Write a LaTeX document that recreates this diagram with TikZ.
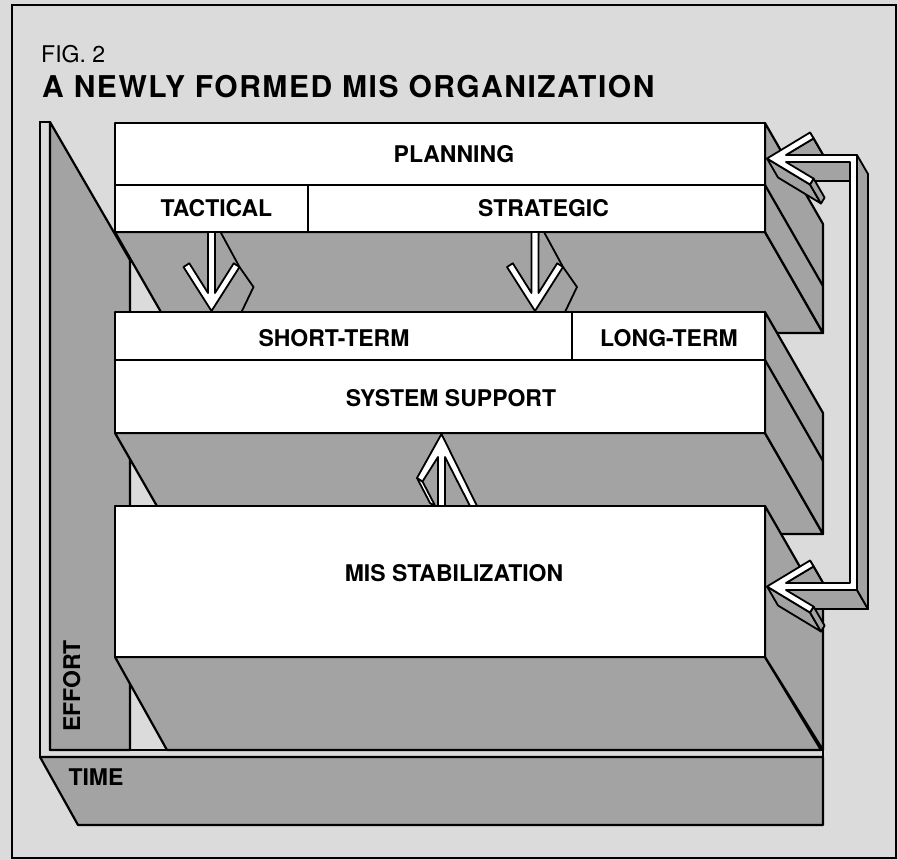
\documentclass[tikz,border=0pt]{standalone}
\usepackage{fontspec}
\setmainfont{TeX Gyre Heros}
\begin{document}
\begin{tikzpicture}[x=1pt,y=-1pt,
  paper/.style={fill=black!14},
  box/.style={draw=black,line width=2.4pt,fill=white,line join=round},
  shade/.style={draw=black,line width=2.2pt,fill=black!36,line join=round},
  edge/.style={draw=black,line width=2.2pt,line cap=round},
  arrface/.style={draw=black,line width=1.8pt,fill=white,line join=round},
  arrshade/.style={draw=black,line width=1.8pt,fill=black!36,line join=round},
  lbl/.style={font=\fontsize{23}{26}\selectfont\bfseries,anchor=base,inner sep=0pt}]
\useasboundingbox (0,0) rectangle (898,860);
\fill[paper] (0,0) rectangle (898,860);
\draw[line width=2pt] (12,5) rectangle (896,858);
%
% macro: hollow down arrow at shaft centre
\newcommand{\droparrow}[1]{
  \draw[arrshade] (#1+3.5,232) -- (#1+9,232) -- (#1+28,267) -- (#1+42,287) -- (#1+30,312) -- (#1,312) -- cycle;
  \draw[arrface] (#1-3.5,232) -- (#1-3.5,293) -- (#1-22.2,263.3) -- (#1-28,267) -- (#1,311)
    -- (#1+28,267) -- (#1+22.2,263.3) -- (#1+3.5,293) -- (#1+3.5,232) -- cycle;
}
%
\node[anchor=base west,inner sep=0pt,font=\fontsize{23}{26}\selectfont] (fig) at (41,62) {FIG. 2};
\node[anchor=base west,inner sep=0pt,font=\fontsize{30}{34}\selectfont\bfseries\addfontfeature{LetterSpace=5.2}] (title) at (42,97) {A NEWLY FORMED MIS ORGANIZATION};
%
% effort wall and time slab
\draw[shade] (50,122) -- (130,260) -- (130,750) -- (50,750) -- cycle;
\draw[shade] (40,757) -- (823,757) -- (823,825) -- (78,825) -- cycle;
\draw[edge] (40,757) -- (40,122) -- (50,122);
\draw[edge] (823,750) -- (823,757);
%
% planning: bottom and right faces
\draw[shade] (115,232) -- (765,232) -- (823,333) -- (173,333) -- cycle;
\draw[shade] (765,123) -- (823,224) -- (823,333) -- (765,232) -- cycle;
\draw[edge] (765,185) -- (823,286);
% system support
\draw[shade] (115,433) -- (765,433) -- (823,534) -- (173,534) -- cycle;
\draw[shade] (765,312) -- (823,413) -- (823,534) -- (765,433) -- cycle;
\draw[edge] (765,360) -- (823,461);
% mis stabilization
\draw[shade] (115,657) -- (765,657) -- (821,750) -- (167,750) -- cycle;
\draw[shade] (765,506) -- (823,607) -- (823,750) -- (765,657) -- cycle;
\draw[edge] (50,750) -- (823,750);
%
% arrows between the boxes
\droparrow{211.5}
\droparrow{535}
\draw[arrface] (417,478) -- (422.5,481.5) -- (435.5,506.5) -- (430,503) -- cycle;
\draw[arrface] (441.5,434) -- (477,506) -- (470,506) -- (445,457) -- (445,506) -- (438,506)
  -- (438,457) -- (422.5,481.5) -- (417,478) -- cycle;
%
% front faces
\draw[box] (115,123) rectangle (765,232);
\draw[edge] (115,185) -- (765,185);
\draw[edge] (308,185) -- (308,232);
\draw[box] (115,312) rectangle (765,433);
\draw[edge] (115,360) -- (765,360);
\draw[edge] (572,312) -- (572,360);
\draw[box] (115,506) rectangle (765,657);
%
% feedback bracket
\draw[arrshade] (786,155) -- (813.6,138.4) -- (824.6,157.4) -- (797,174) -- cycle;
\draw[arrshade] (813.6,138.4) -- (810,132.5) -- (821,151.5) -- (824.6,157.4) -- cycle;
\draw[arrshade] (786,583) -- (813.6,566.4) -- (824.6,585.4) -- (797,602) -- cycle;
\draw[arrshade] (813.6,566.4) -- (810,560.5) -- (821,579.5) -- (824.6,585.4) -- cycle;
\draw[arrshade] (786,162) -- (850,162) -- (861,181) -- (797,181) -- cycle;
\draw[arrshade] (786,590) -- (857,590) -- (868,609) -- (797,609) -- cycle;
\draw[arrshade] (767,158.5) -- (810,184.5) -- (821,203.5) -- (778,177.5) -- cycle;
\draw[arrshade] (810,184.5) -- (813.6,178.6) -- (824.6,197.6) -- (821,203.5) -- cycle;
\draw[arrshade] (767,586.5) -- (810,612.5) -- (821,631.5) -- (778,605.5) -- cycle;
\draw[arrshade] (810,612.5) -- (813.6,606.6) -- (824.6,625.6) -- (821,631.5) -- cycle;
\draw[arrshade] (857,155) -- (857,590) -- (868,609) -- (868,174) -- cycle;
\draw[arrface] (786,155) -- (813.6,138.4) -- (810,132.5) -- (767,158.5) -- (810,184.5) -- (813.6,178.6)
  -- (786,162) -- (850,162) -- (850,583) -- (786,583) -- (813.6,566.4) -- (810,560.5) -- (767,586.5)
  -- (810,612.5) -- (813.6,606.6) -- (786,590) -- (857,590) -- (857,155) -- cycle;
%
\node[lbl] (planning) at (454,162) {PLANNING};
\node[lbl] (tactical) at (216.5,216.5) {TACTICAL};
\node[lbl] (strategic) at (543.5,216.5) {STRATEGIC};
\node[lbl] (shortterm) at (334,346.5) {SHORT-TERM};
\node[lbl] (longterm) at (669,346.5) {LONG-TERM};
\node[lbl] (support) at (451,406.5) {SYSTEM SUPPORT};
\node[lbl] (stabil) at (454,581.5) {MIS STABILIZATION};
\node[lbl,rotate=90] (effort) at (80,686) {EFFORT};
\node[lbl] (time) at (96,785) {TIME};
\end{tikzpicture}
\end{document}
